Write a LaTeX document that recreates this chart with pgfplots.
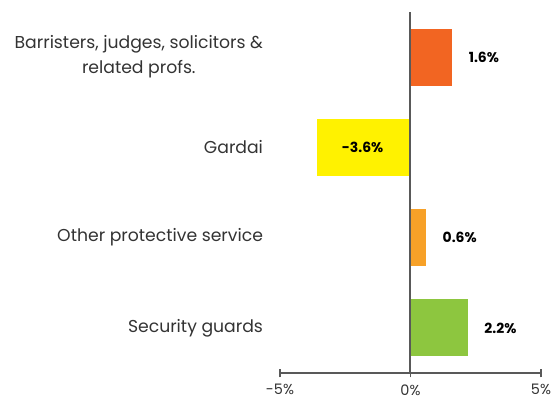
\documentclass[border=0pt]{standalone}
\usepackage{fontspec}
\setmainfont{Poppins}
\usepackage{pgfplots}
\pgfplotsset{compat=1.18}
\definecolor{cRed}{HTML}{F26522}
\definecolor{cYellow}{HTML}{FFF200}
\definecolor{cOrange}{HTML}{F7A128}
\definecolor{cGreen}{HTML}{8DC63F}
\definecolor{cAxis}{HTML}{595959}
\definecolor{cLabel}{HTML}{333333}
\begin{document}
\begin{tikzpicture}
\begin{axis}[
  at={(0,0)}, anchor=south west,
  scale only axis, width=261bp, height=361bp,
  xmin=-5, xmax=5, ymin=-0.5, ymax=3.5,
  clip=false,
  axis x line*=bottom, axis y line*=left,
  x axis line style={-, draw=cAxis, line width=1.8bp},
  y axis line style={draw=none},
  xtick={-5,0,5},
  xticklabels={-5\%,0\%,5\%},
  tick align=center,
  major tick length=9bp,
  xtick style={draw=cAxis, line width=1.8bp},
  ytick style={draw=none},
  xticklabel style={font=\fontsize{14.5}{18}\selectfont, text=cLabel, yshift=-3.5bp},
  ytick={0,1,2,3},
  yticklabels={Security guards, Other protective service, Gardai, {Barristers, judges, solicitors \&\\related profs.}},
  yticklabel style={align=center, font=\fontsize{17.3}{25}\selectfont, text=cLabel, xshift=-9bp},
  bar width=57bp,
  nodes near coords style={font=\fontsize{14}{16}\selectfont\bfseries, text=black},
]
\addplot[xbar, bar shift=0pt, fill=cGreen, draw=none, nodes near coords={2.2\%}, nodes near coords style={anchor=west, xshift=13bp}] coordinates {(2.2,0)};
\addplot[xbar, bar shift=0pt, fill=cOrange, draw=none, nodes near coords={0.6\%}, nodes near coords style={anchor=west, xshift=13bp}] coordinates {(0.6,1)};
\addplot[xbar, bar shift=0pt, fill=cYellow, draw=none, nodes near coords={-3.6\%}, nodes near coords style={anchor=center, xshift=46bp}] coordinates {(-3.6,2)};
\addplot[xbar, bar shift=0pt, fill=cRed, draw=none, nodes near coords={1.6\%}, nodes near coords style={anchor=west, xshift=13bp}] coordinates {(1.6,3)};
\addplot[draw=cAxis, line width=2bp, mark=none] coordinates {(0,-0.5) (0,3.5)};
\end{axis}
\pgfresetboundingbox
\useasboundingbox (-280bp,-27bp) rectangle (274bp,373bp);
\end{tikzpicture}
\end{document}
